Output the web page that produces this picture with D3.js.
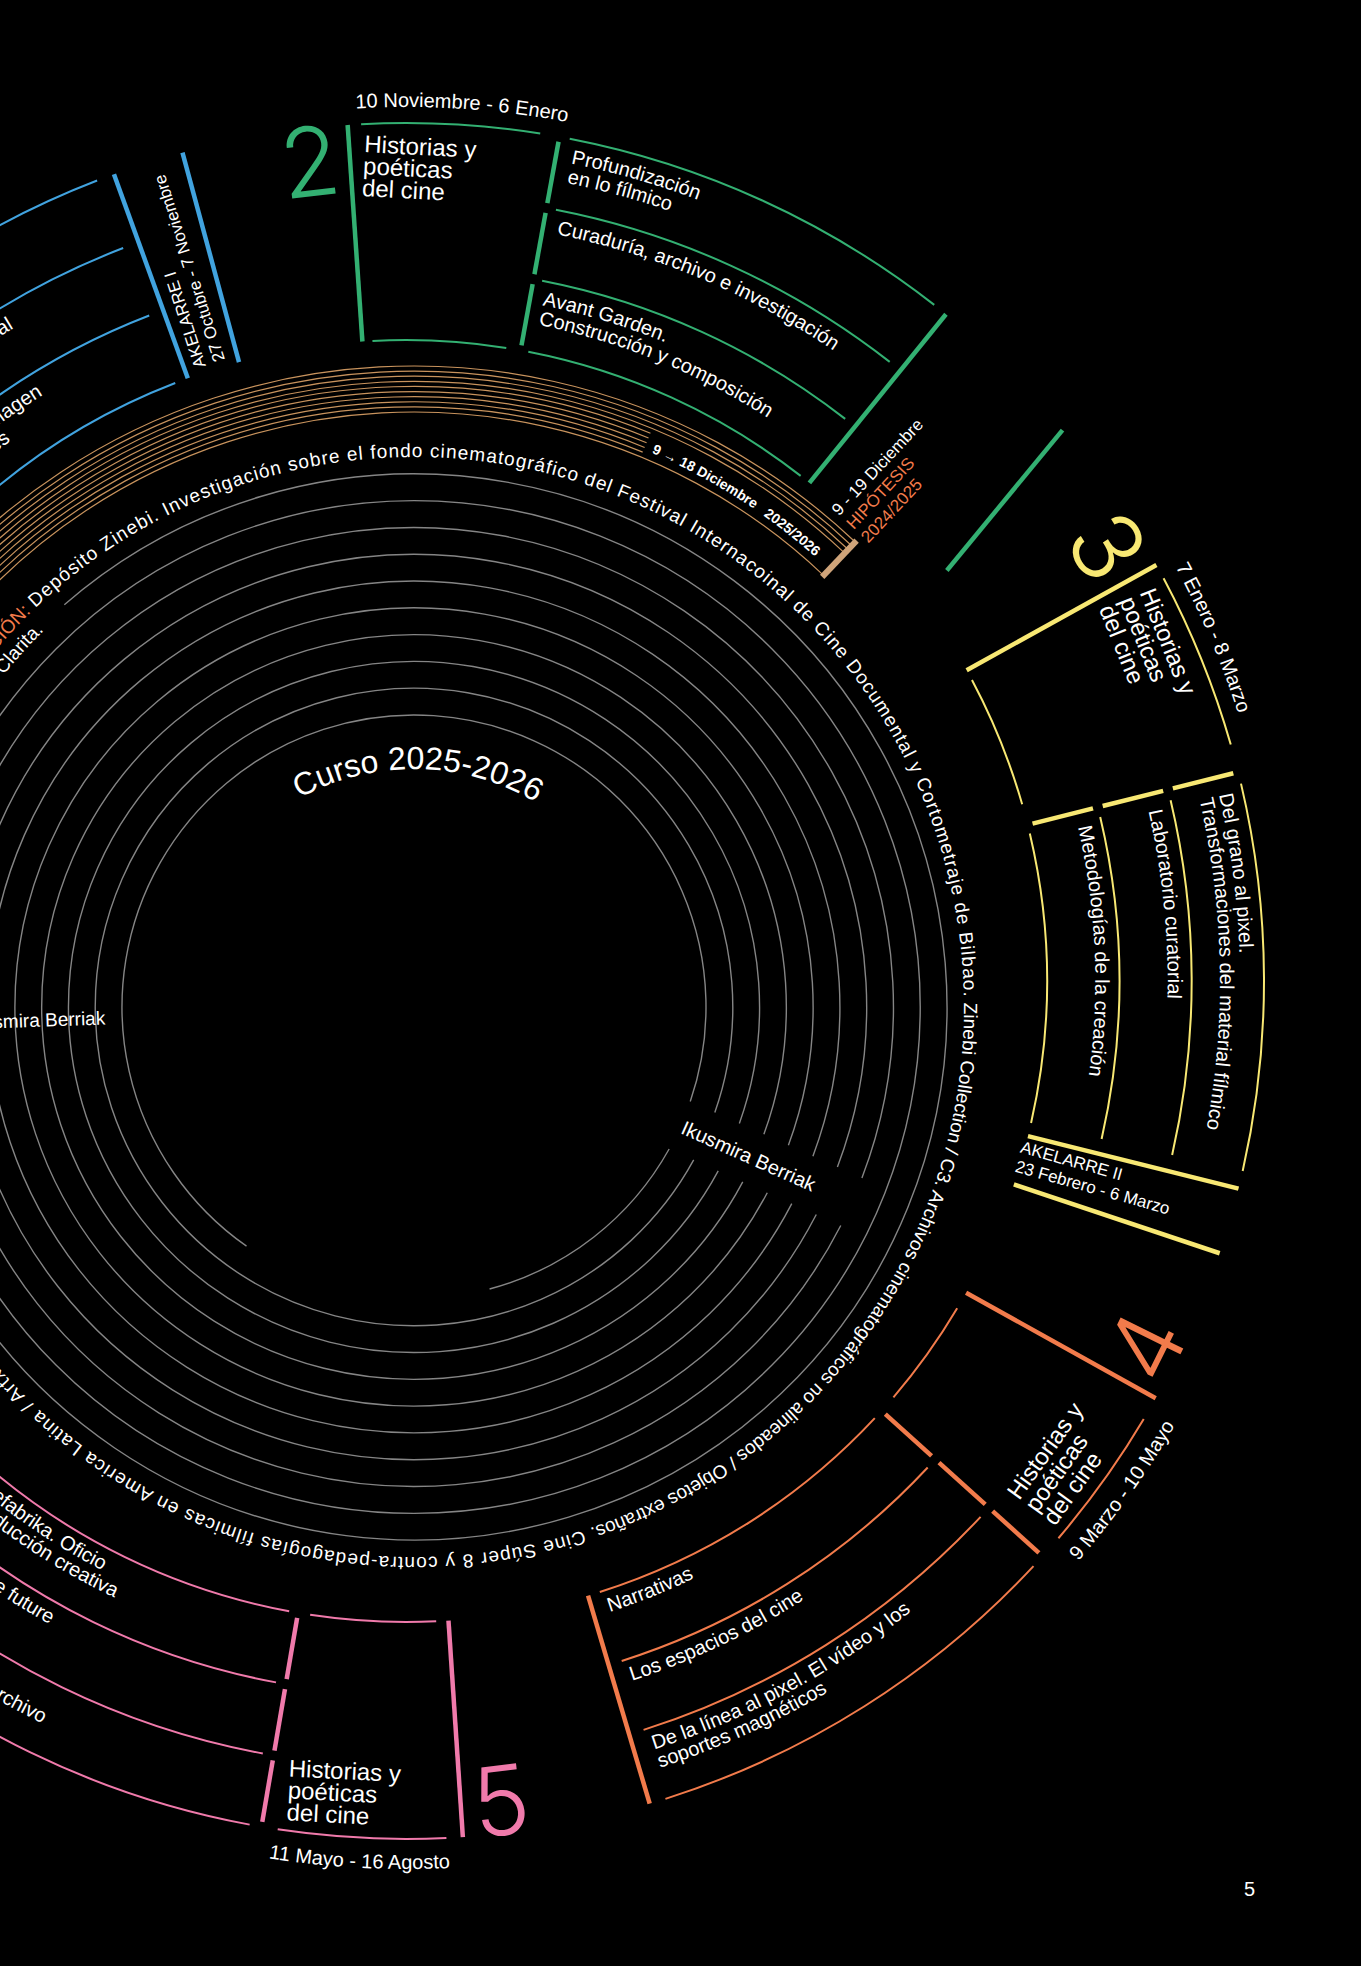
<!DOCTYPE html>
<html lang="es">
<head>
<meta charset="UTF-8">
<title>Curso 2025-2026</title>
<script src="https://d3js.org/d3.v7.min.js"></script>
<style>
  body { margin: 0; background: #000; }
  svg { display: block; }
  text { font-family: "Liberation Sans", Arial, sans-serif; }
  .num { font-family: Inter, Roboto, "Liberation Sans", sans-serif; font-weight: 300; }
</style>
</head>
<body>
<div id="chart"></div>
<script>
  // ---- data ----
  const sectionNumbers = ["1", "2", "3", "4", "5"];
  const sectionColors = ["#41a3df", "#33b072", "#f8e873", "#f27b4b", "#f07aab"];
  const sectionTitles = [
    ["Historias y", "poéticas", "del cine"],
    ["Historias y", "poéticas", "del cine"],
    ["Historias y", "poéticas", "del cine"],
    ["Historias y", "poéticas", "del cine"],
    ["Historias y", "poéticas", "del cine"]
  ];
  const sectionDates = ["22 Septiembre - 9 Noviembre", "10 Noviembre - 6 Enero", "7 Enero - 8 Marzo", "9 Marzo - 10 Mayo", "11 Mayo - 16 Agosto"];
  // subjects per section, from the inner band to the outer band
  const sectionSubjects = [
    [["Teorías de la imagen", "y sus soportes"], ["Taller de diseño editorial"], ["Taller de guion"]],
    [["Avant Garden.", "Construcción y composición"], ["Curaduría, archivo e investigación"], ["Profundización", "en lo fílmico"]],
    [["Metodologías de la creación"], ["Laboratorio curatorial"], ["Del grano al pixel.", "Transformaciones del material fílmico"]],
    [["Narrativas"], ["Los espacios del cine"], ["De la línea al pixel. El vídeo y los", "soportes magnéticos"]],
    [["Zinefabrika. Oficio", "y producción creativa"], ["Archive the future"], ["Found footage /", "Nuevos usos del archivo"]]
  ];
  const eventLines = [
    ["AKELARRE I", "27 Octubre - 7 Noviembre"],
    ["9 - 19 Diciembre", "HIPÓTESIS", "2024/2025"],
    ["AKELARRE II", "23 Febrero - 6 Marzo"]
  ];
  const eventAccent = [[false, false], [false, true, true], [false, false]];

  const archiveLead = "INVESTIGACIÓN:";
  const archiveText = [
    "Depósito Zinebi. Investigación sobre el fondo cinematográfico del Festival Internacoinal de Cine Documental y Cortometraje de Bilbao.",
    "\u00a0Zinebi Collection / C3. Archivos cinematográficos no alineados / Objetos extraños.",
    "\u00a0Cine Súper 8 y contra-pedagogías fílmicas en America Latina / Artxibo"
  ];
  const archiveTail = "Coordinación: Clarita.";
  const residencyLabel = "Ikusmira Berriak";
  const courseLabel = "Curso 2025-2026";
  const screeningLabels = ["9 → 18 Diciembre", "2025/2026"];
  const pageNumber = "5";

  // ---- layout ----
  const W = 1361, H = 1966;
  const ringCenter = [414, 1007];
  const sectionCenter = [406, 981];
  const ringR = d3.scaleLinear().domain([0, 9]).range([292, 533]);
  const bandR = d3.scaleLinear().domain([0, 3]).range([641, 858]);
  const tanR = d3.scaleLinear().domain([0, 9]).range([595, 641]);

  // angles in degrees, 0 = right, clockwise
  const sectionLayout = [
    { a0: -152.5, box: [-151.6, -139.6], seg: -138.3, sub: [-137.6, -111.1], flip: false },
    { a0: -93.9, box: [-93.0, -81.0], seg: -79.7, sub: [-79.0, -52.0], flip: false },
    { a0: -29.0, box: [-28.0, -16.0], seg: -14.1, sub: [-13.3, 12.8], flip: false },
    { a0: 29.1, box: [30.7, 40.5], seg: 42.1, sub: [43.0, 72.4], flip: true },
    { a0: 86.2, box: [87.3, 98.6], seg: 99.7, sub: [100.5, 131.5], flip: true }
  ];
  const closingLines = [
    { s: 0, a: [-109.9, -109.9], r: [641, 858] },
    { s: 0, a: [-105.1, -105.1], r: [641, 858] },
    { s: 1, a: [-51.0, -51.0], r: [641, 858] },
    { s: 1, a: [-37.2, -40.0], r: [679, 857] },
    { s: 2, a: [14.0, 14.0], r: [641, 858] },
    { s: 2, a: [18.5, 18.5], r: [641, 858] },
    { s: 3, a: [73.5, 73.5], r: [641, 858] }
  ];
  const eventLayout = [{ s: 0, a: -108.0, r: 647 }, { s: 1, a: -47.0, r: 635 }, { s: 2, a: 15.6, r: 637 }];

  const ringSpans = [[125, 435], [-180, 180], [-180, 180], [-180, 180], [-180, 180],
                     [-180, 180], [-180, 180], [-180, 180], [-180, 180], [-131, 200]];
  const labelAngles = [178, 24];
  const labelRings = [[1, 2, 3, 4, 5, 6, 7, 8, 9], [0, 1, 2, 3, 4, 5, 6, 7]];
  const chunkAngles = [-133.5, -1.0, 71.4, 142];

  const gray = "#858585", tan = "#c8935d", accent = "#f27b4b";

  // ---- helpers ----
  const rad = d => d * Math.PI / 180;
  const pt = (c, r, a) => [c[0] + r * Math.cos(rad(a)), c[1] + r * Math.sin(rad(a))];
  function arcD(c, r, a0, a1) {
    const p = d3.path();
    const s = pt(c, r, a0);
    p.moveTo(s[0], s[1]);
    p.arc(c[0], c[1], r, rad(a0), rad(a1), a1 < a0);
    return p.toString();
  }
  const radialD = (c, a0, r0, a1, r1) => d3.line()([pt(c, r0, a0), pt(c, r1, a1)]);

  const svg = d3.select("#chart").append("svg").attr("width", W).attr("height", H);
  svg.append("rect").attr("width", W).attr("height", H).attr("fill", "#000");
  const defs = svg.append("defs");
  let uid = 0;

  function onArc(g, c, r, a, dir, str, o) {
    const id = "arc" + (uid++);
    defs.append("path").attr("id", id).attr("d", arcD(c, r, a - dir * 179.9, a + dir * 179.9));
    const t = g.append("text")
      .attr("font-size", o.size)
      .attr("fill", o.fill || "#fff")
      .attr("text-anchor", o.anchor || "start");
    if (o.weight) t.attr("font-weight", o.weight);
    t.append("textPath").attr("href", "#" + id).attr("startOffset", "50%").text(str);
    return t;
  }
  // straight (rotated) text block; dy0 shifts the first line
  function block(g, c, r, a, rot, lines, size, lh, fill, anchor, dy0) {
    const p = pt(c, r, a);
    const t = g.append("text")
      .attr("transform", `translate(${p[0]},${p[1]}) rotate(${rot})`)
      .attr("font-size", size).attr("fill", fill).attr("text-anchor", anchor || "start");
    lines.forEach((l, i) => t.append("tspan").attr("x", 0).attr("dy", i ? lh : (dy0 || 0)).text(l));
    return t;
  }
  function gapSegments(span, gaps, r) {
    const half = (26 / r) * 180 / Math.PI;
    const cuts = [];
    gaps.forEach(g => {
      for (let k = -1; k <= 1; k++) {
        const gg = g + 360 * k;
        if (gg - half > span[0] && gg + half < span[1]) cuts.push([gg - half, gg + half]);
      }
    });
    cuts.sort((a, b) => a[0] - b[0]);
    const segs = [];
    let cur = span[0];
    cuts.forEach(c => { segs.push([cur, c[0]]); cur = c[1]; });
    segs.push([cur, span[1]]);
    return segs;
  }

  // ---- inner grey rings ----
  const gRings = svg.append("g").attr("fill", "none").attr("stroke", gray).attr("stroke-width", 1.4);
  ringSpans.forEach((span, k) => {
    const gaps = labelAngles.filter((a, j) => labelRings[j].includes(k));
    gapSegments(span, gaps, ringR(k)).forEach(s => {
      gRings.append("path").attr("d", arcD(ringCenter, ringR(k), s[0], s[1]));
    });
  });

  const gText = svg.append("g");
  // residency labels across the rings
  block(gText, ringCenter, ringR(0) + 17, labelAngles[0], labelAngles[0] - 180, [residencyLabel], 19, 0, "#fff", "end", "0.35em");
  block(gText, ringCenter, ringR(0) + 2, labelAngles[1], labelAngles[1], [residencyLabel], 20, 0, "#fff", "start", "0.35em");

  onArc(gText, ringCenter, 238, -89, 1, courseLabel, { size: 32, anchor: "middle" });

  // ---- archive text around the rings ----
  const textR = 550;
  onArc(gText, ringCenter, textR, chunkAngles[0] - 0.6, 1, archiveLead, { size: 19, fill: accent, anchor: "end" });
  archiveText.forEach((str, i) => {
    const t = onArc(gText, ringCenter, textR, chunkAngles[i], 1, str, { size: 19 });
    const natural = t.node().getComputedTextLength();
    const target = rad(chunkAngles[i + 1] - chunkAngles[i]) * textR;
    t.attr("letter-spacing", (target - natural) / str.length);
  });
  onArc(gText, ringCenter, 528, chunkAngles[0] - 1.0, 1, archiveTail, { size: 19, anchor: "end" });

  // ---- screening band ----
  const gBand = svg.append("g").attr("fill", "none").attr("stroke", tan).attr("stroke-width", 1.2);
  d3.range(10).forEach(i => {
    const end = (i === 0 || i >= 6) ? -46.5 : -67.6;
    gBand.append("path").attr("d", arcD(ringCenter, tanR(i), -170, end));
  });
  gBand.append("path").attr("d", radialD(ringCenter, -46.5, tanR(0) - 2, -46.5, tanR(9) + 2))
    .attr("stroke", "#cfa47a").attr("stroke-width", 6);
  onArc(gText, ringCenter, 603, -66.8, 1, screeningLabels[0], { size: 14, weight: "bold" });
  onArc(gText, ringCenter, 603, -48.3, 1, screeningLabels[1], { size: 14, weight: "bold", anchor: "end" });

  // ---- sections ----
  const thick = 4.5, thin = 2;
  sectionLayout.forEach((L, s) => {
    const col = sectionColors[s];
    const g = svg.append("g").attr("fill", "none").attr("stroke", col);
    const rIn = bandR(0), rOut = bandR(3);
    // opening line
    g.append("path").attr("d", radialD(sectionCenter, L.a0, rIn, L.a0, rOut)).attr("stroke-width", thick);
    // title box
    [rIn, rOut].forEach(r => g.append("path").attr("d", arcD(sectionCenter, r, L.box[0], L.box[1])).attr("stroke-width", thin));
    // divider in three pieces
    d3.range(3).forEach(i => g.append("path")
      .attr("d", radialD(sectionCenter, L.seg, bandR(i) + 5, L.seg, bandR(i + 1) - 5)).attr("stroke-width", thick));
    // subject arcs
    d3.range(4).forEach(i => g.append("path")
      .attr("d", arcD(sectionCenter, bandR(i), L.sub[0], L.sub[1])).attr("stroke-width", thin));

    const gt = svg.append("g");
    const mid = (L.box[0] + L.box[1]) / 2;
    const numA = L.a0 - 2.8;
    // big number
    block(gt, sectionCenter, 825, numA, L.flip ? numA - 90 : numA + 90, [sectionNumbers[s]], 96, 0, col, "middle", "0.36em")
      .attr("class", "num");
    if (!L.flip) {
      block(gt, sectionCenter, rOut - 28, L.box[0] + 0.1, mid + 90, sectionTitles[s], 24, 22, "#fff");
      onArc(gt, sectionCenter, 874, L.box[0] - 0.3, 1, sectionDates[s], { size: 20 });
      sectionSubjects[s].forEach((lines, b) => {
        lines.forEach((l, j) => onArc(gt, sectionCenter, bandR(b + 1) - 24 - 20 * j, L.sub[0] + 0.4, 1, l, { size: 20 }));
      });
    } else {
      block(gt, sectionCenter, rOut - 54, L.box[1] - 0.2, mid - 90, sectionTitles[s], 24, 22, "#fff");
      onArc(gt, sectionCenter, 888, L.box[1] + 0.3, -1, sectionDates[s], { size: 20 });
      sectionSubjects[s].forEach((lines, b) => {
        lines.forEach((l, j) => onArc(gt, sectionCenter, bandR(b) + 22 + 19 * j, L.sub[1] - 0.3, -1, l, { size: 20 }));
      });
    }
  });

  // closing lines and events
  const gClose = svg.append("g").attr("fill", "none").attr("stroke-width", thick);
  closingLines.forEach(c => {
    gClose.append("path").attr("stroke", sectionColors[c.s])
      .attr("d", radialD(sectionCenter, c.a[0], c.r[0], c.a[1], c.r[1]));
  });
  eventLayout.forEach((e, i) => {
    const p = pt(sectionCenter, e.r, e.a);
    const t = svg.append("text").attr("transform", `translate(${p[0]},${p[1]}) rotate(${e.a})`).attr("font-size", 17);
    eventLines[i].forEach((l, j) => t.append("tspan").attr("x", 0).attr("dy", j ? 20 : 0)
      .attr("fill", eventAccent[i][j] ? accent : "#fff").text(l));
  });

  svg.append("text").attr("x", 1244).attr("y", 1896).attr("font-size", 20).attr("fill", "#fff").text(pageNumber);
</script>
</body>
</html>
